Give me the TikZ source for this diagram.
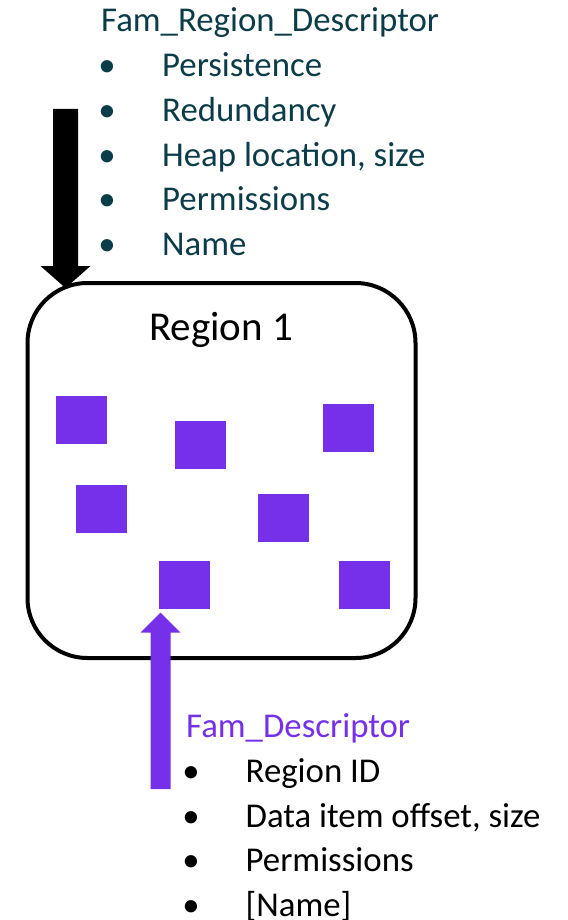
\documentclass[tikz,border=0pt]{standalone}
\usepackage{fontspec}
\setmainfont{Carlito}
\usetikzlibrary{calc}
\definecolor{famteal}{HTML}{0B3C49}
\definecolor{fampurple}{HTML}{7630EA}

\begin{document}
\begin{tikzpicture}[x=1pt,y=-1pt,
  txt/.style={anchor=base west, inner sep=0pt, font=\fontsize{34.8}{40}\selectfont},
  dot/.style={anchor=base, inner sep=0pt, font=\fontsize{34.8}{40}\selectfont},
  block/.style={fill=fampurple, draw=none, minimum width=51pt, minimum height=48pt, inner sep=0pt},
  regionbox/.style={draw=black, line width=4pt, rounded corners=60pt,
    minimum width=388pt, minimum height=375pt, inner sep=0pt}
]
\useasboundingbox (0,0) rectangle (567,920);

% region and its data items
\node[regionbox] (region) at (221.5,470.5) {};
\node[anchor=base, inner sep=0pt, font=\fontsize{41}{48}\selectfont] (regtitle) at (221,340) {Region 1};

\node[block] (sq1) at (81.2,420) {};
\node[block] (sq2) at (200.8,445) {};
\node[block] (sq3) at (348.2,428) {};
\node[block] (sq4) at (101,509) {};
\node[block] (sq5) at (283.3,517.5) {};
\node[block] (sq6) at (184.8,585) {};
\node[block] (sq7) at (364,585) {};

% region descriptor list
\begin{scope}[color=famteal]
\node[txt] (rdtitle) at (101,32) {Fam\_Region\_Descriptor};
\node[dot] (rb1) at (107,77) {•};   \node[txt] (ri1) at (162,77) {Persistence};
\node[dot] (rb2) at (107,121.6) {•}; \node[txt] (ri2) at (162,121.6) {Redundancy};
\node[dot] (rb3) at (107,166.2) {•}; \node[txt] (ri3) at (162,166.2) {Heap location, size};
\node[dot] (rb4) at (107,210.8) {•}; \node[txt] (ri4) at (162,210.8) {Permissions};
\node[dot] (rb5) at (107,255.4) {•}; \node[txt] (ri5) at (162,255.4) {Name};
\end{scope}

% item descriptor list
\node[txt, color=fampurple] (dtitle) at (186,737.5) {Fam\_Descriptor};
\node[dot] (db1) at (191,782.5) {•}; \node[txt] (di1) at (245.5,782.5) {Region ID};
\node[dot] (db2) at (191,827.2) {•}; \node[txt] (di2) at (245.5,827.2) {Data item offset, size};
\node[dot] (db3) at (191,871.9) {•}; \node[txt] (di3) at (245.5,871.9) {Permissions};
\node[dot] (db4) at (191,916.6) {•}; \node[txt] (di4) at (245.5,916.6) {[Name]};

% black block arrow into the region corner
\coordinate (blktail) at (65.5,109);
\coordinate (blktip) at (65.5,288);
\fill[black] (blktail) ++(-12.5,0) -- ++(25,0) -- ($(blktip)+(12.5,-22)$) -- ($(blktip)+(25,-22)$)
  -- (blktip) -- ($(blktip)+(-25,-22)$) -- ($(blktip)+(-12.5,-22)$) -- cycle;

% purple block arrow up to a data item
\coordinate (pptail) at (160.5,789);
\coordinate (pptip) at ($(sq6.south -| pptail)+(0,3.5)$);
\fill[fampurple] (pptail) ++(-10,0) -- ++(20,0) -- ($(pptip)+(10,20)$) -- ($(pptip)+(20,20)$)
  -- (pptip) -- ($(pptip)+(-20,20)$) -- ($(pptip)+(-10,20)$) -- cycle;
\end{tikzpicture}
\end{document}
